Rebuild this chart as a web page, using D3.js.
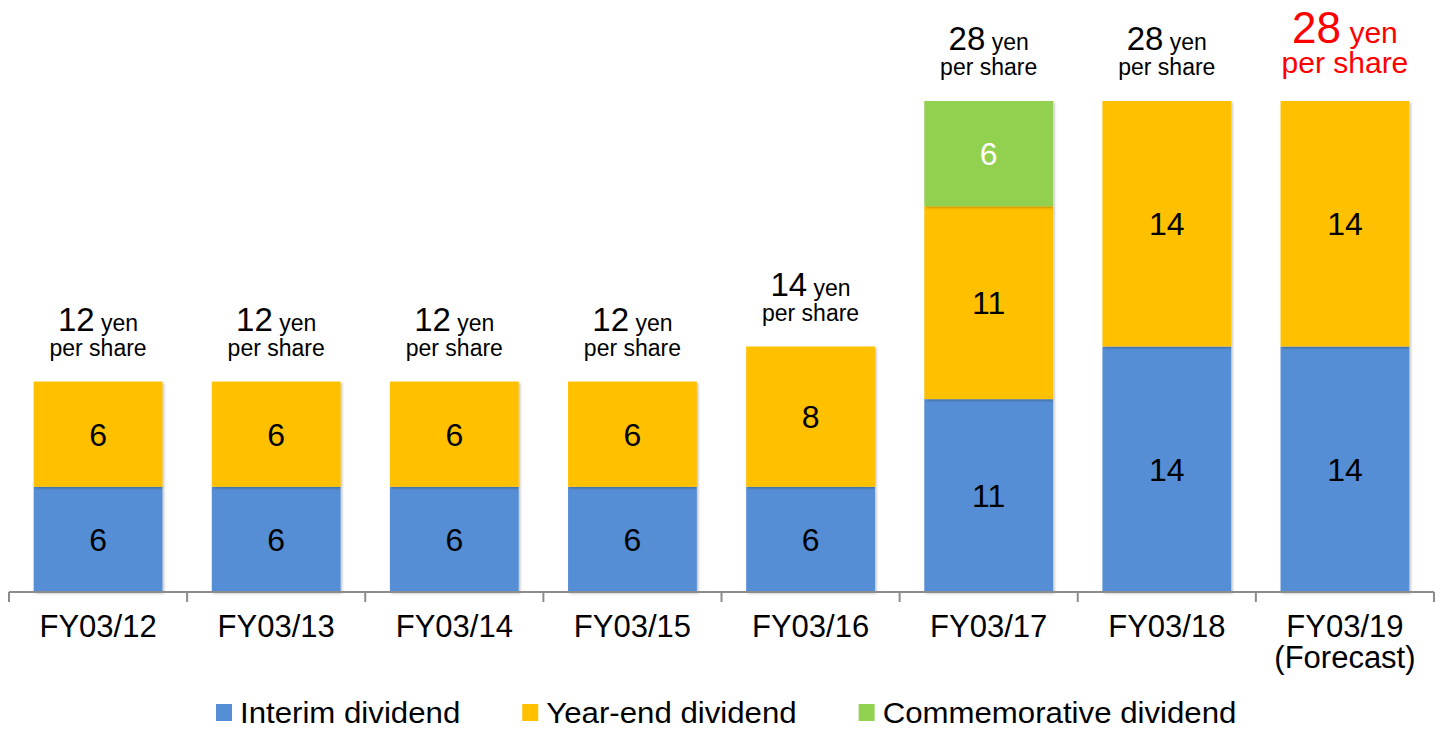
<!DOCTYPE html>
<html>
<head>
<meta charset="utf-8">
<script src="https://cdn.jsdelivr.net/npm/d3@7"></script>
<style>
  html, body { margin: 0; padding: 0; background: #fff; }
  svg text { font-family: "Liberation Sans", Arial, sans-serif; }
</style>
</head>
<body>
<div id="chart"></div>
<script>
const categories = ["FY03/12", "FY03/13", "FY03/14", "FY03/15", "FY03/16", "FY03/17", "FY03/18", "FY03/19"];
const categoryNotes = ["", "", "", "", "", "", "", "(Forecast)"];
const interimDividend = [6, 6, 6, 6, 6, 11, 14, 14];
const yearEndDividend = [6, 6, 6, 6, 8, 11, 14, 14];
const commemorativeDividend = [0, 0, 0, 0, 0, 6, 0, 0];
const forecastFlag = [false, false, false, false, false, false, false, true];

const seriesNames = ["Interim dividend", "Year-end dividend", "Commemorative dividend"];
const colors = ["#558ED5", "#FFC000", "#92D050"];
const labelColors = ["#000", "#000", "#fff"];

const width = 1445;
const height = 729;
const baseline = 592;

const rows = categories.map((c, i) => ({
  cat: c,
  note: categoryNotes[i],
  interim: interimDividend[i],
  yearEnd: yearEndDividend[i],
  commemorative: commemorativeDividend[i],
  forecast: forecastFlag[i]
}));
rows.forEach(r => { r.total = r.interim + r.yearEnd + r.commemorative; });

const keys = ["interim", "yearEnd", "commemorative"];
const stack = d3.stack().keys(keys)(rows);

const x = d3.scaleBand()
  .domain(categories)
  .range([9, 1434])
  .paddingInner(0.277)
  .paddingOuter(0.1385);

const y = d3.scaleLinear()
  .domain([0, 28])
  .range([baseline, 101]);

const svg = d3.select("#chart").append("svg")
  .attr("width", width)
  .attr("height", height);

const defs = svg.append("defs");
const shadow = defs.append("filter")
  .attr("id", "shadow")
  .attr("x", "-10%").attr("y", "-10%")
  .attr("width", "120%").attr("height", "120%");
shadow.append("feDropShadow")
  .attr("dx", 1.5).attr("dy", 1.5)
  .attr("stdDeviation", 1)
  .attr("flood-color", "#000")
  .attr("flood-opacity", 0.25);

// bars
const layers = svg.append("g").attr("class", "bars")
  .selectAll("g")
  .data(stack)
  .join("g")
  .attr("fill", (d, i) => colors[i]);

layers.selectAll("rect")
  .data(d => d.filter(s => s[1] - s[0] > 0))
  .join("rect")
  .attr("x", d => x(d.data.cat))
  .attr("y", d => y(d[1]))
  .attr("width", x.bandwidth())
  .attr("height", d => y(d[0]) - y(d[1]))
  .attr("filter", "url(#shadow)");

// segment labels
stack.forEach((layer, li) => {
  svg.append("g")
    .selectAll("text")
    .data(layer.filter(s => s[1] - s[0] > 0))
    .join("text")
    .attr("x", d => x(d.data.cat) + x.bandwidth() / 2)
    .attr("y", d => (y(d[0]) + y(d[1])) / 2)
    .attr("dy", "0.36em")
    .attr("text-anchor", "middle")
    .attr("font-size", 32)
    .attr("fill", labelColors[li])
    .text(d => d[1] - d[0]);
});

// axis
const step = x.step();
const axis = svg.append("g").attr("class", "x axis");
axis.append("line")
  .attr("x1", x.range()[0]).attr("x2", x.range()[1])
  .attr("y1", baseline).attr("y2", baseline)
  .attr("stroke", "#8c8c8c")
  .attr("stroke-width", 2);

const tickXs = categories.map(c => x(c) + x.bandwidth() / 2 - step / 2)
  .concat([x(categories[categories.length - 1]) + x.bandwidth() / 2 + step / 2]);
axis.selectAll("line.tick")
  .data(tickXs)
  .join("line")
  .attr("class", "tick")
  .attr("x1", d => d).attr("x2", d => d)
  .attr("y1", baseline).attr("y2", baseline + 10)
  .attr("stroke", "#8c8c8c")
  .attr("stroke-width", 2);

axis.selectAll("text.cat")
  .data(rows)
  .join("text")
  .attr("class", "cat")
  .attr("x", d => x(d.cat) + x.bandwidth() / 2)
  .attr("y", 637)
  .attr("text-anchor", "middle")
  .attr("font-size", 31)
  .attr("fill", "#000")
  .text(d => d.cat);

axis.selectAll("text.note")
  .data(rows.filter(d => d.note))
  .join("text")
  .attr("class", "note")
  .attr("x", d => x(d.cat) + x.bandwidth() / 2)
  .attr("y", 668)
  .attr("text-anchor", "middle")
  .attr("font-size", 31)
  .attr("fill", "#000")
  .text(d => d.note);

// totals above bars
const totals = svg.append("g").attr("class", "totals");
rows.forEach(r => {
  const cx = x(r.cat) + x.bandwidth() / 2;
  const top = y(r.total);
  const big = r.forecast ? 44 : 33;
  const small = r.forecast ? 30 : 23;
  const fill = r.forecast ? "#FF0000" : "#000";
  const line1 = totals.append("text")
    .attr("x", cx)
    .attr("y", r.forecast ? top - 58 : top - 51)
    .attr("text-anchor", "middle")
    .attr("fill", fill);
  line1.append("tspan").attr("font-size", big).text(r.total);
  line1.append("tspan").attr("font-size", small).text(" yen");
  totals.append("text")
    .attr("x", cx)
    .attr("y", r.forecast ? top - 28 : top - 26)
    .attr("text-anchor", "middle")
    .attr("font-size", small)
    .attr("fill", fill)
    .text("per share");
});

// legend
const legend = svg.append("g").attr("class", "legend")
  .attr("transform", "translate(216,713)");
let lx = 0;
seriesNames.forEach((name, i) => {
  const item = legend.append("g").attr("transform", `translate(${lx},0)`);
  item.append("rect")
    .attr("x", 0).attr("y", -9)
    .attr("width", 16).attr("height", 17)
    .attr("fill", colors[i]);
  const t = item.append("text")
    .attr("x", 24)
    .attr("y", 0)
    .attr("dy", "0.33em")
    .attr("font-size", 30)
    .attr("fill", "#000")
    .text(name);
  // the original legend font runs a little wider than Arial
  const w = t.node().getComputedTextLength() * 1.04;
  t.attr("textLength", w).attr("lengthAdjust", "spacingAndGlyphs");
  lx += 24 + w + 62;
});
</script>
</body>
</html>
